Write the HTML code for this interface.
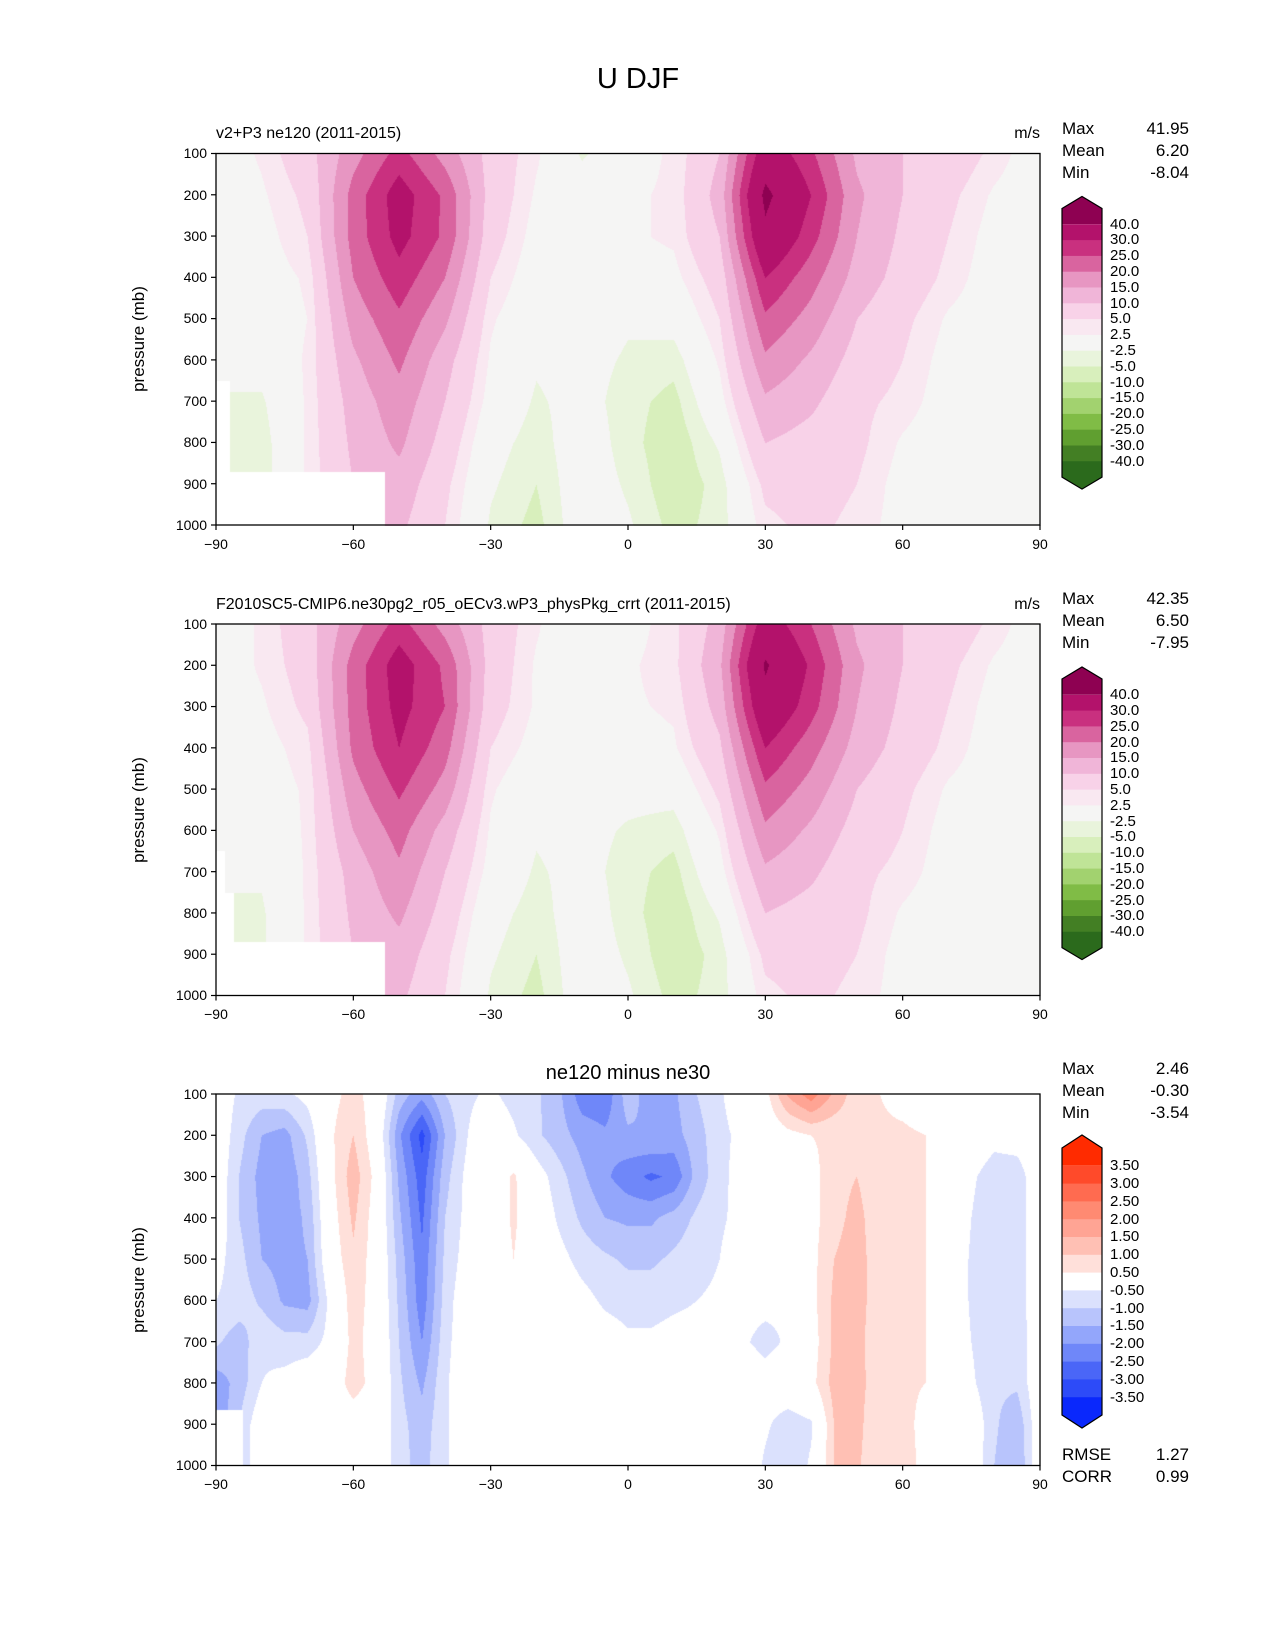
<!DOCTYPE html>
<html><head><meta charset="utf-8"><style>
body{margin:0;background:#fff;font-family:"Liberation Sans","DejaVu Sans",sans-serif;}
#fig{position:relative;width:1275px;height:1650px;overflow:hidden;background:#fff}
.t{position:absolute;white-space:nowrap;color:#000}
canvas{position:absolute}
</style></head><body>
<div id="fig">
<svg id="ov" width="1275" height="1650" style="position:absolute;left:0;top:0"></svg>
</div>
<script>
// ---- data ----
const lats10=[-90,-80,-70,-60,-50,-40,-30,-20,-10,0,10,20,30,40,50,60,70,80,90];
const lats5=[-90,-85,-80,-75,-70,-65,-60,-55,-50,-45,-40,-35,-30,-25,-20,-15,-10,-5,0,5,10,15,20,25,30,35,40,45,50,55,60,65,70,75,80,85,90];
const plevs=[100,200,300,400,500,600,700,800,900,1000];
const uLevels=[-40,-30,-25,-20,-15,-10,-5,-2.5,2.5,5,10,15,20,25,30,40];
const uLabels=["40.0","30.0","25.0","20.0","15.0","10.0","5.0","2.5","-2.5","-5.0","-10.0","-15.0","-20.0","-25.0","-30.0","-40.0"];
const uColors=["#2b6a1c","#437f24","#609f30","#80bc46","#a2d26f","#bfe497","#d8efbc","#e9f4dc","#f5f5f4","#f9e8f1","#f8d2e8","#f0b5d8","#e796c2","#d9649f","#c9307f","#b3126b","#8e0152"];
const dLevels=[-3.5,-3,-2.5,-2,-1.5,-1,-0.5,0.5,1,1.5,2,2.5,3,3.5];
const dLabels=["3.50","3.00","2.50","2.00","1.50","1.00","0.50","-0.50","-1.00","-1.50","-2.00","-2.50","-3.00","-3.50"];
const dColors=["#0a28fc","#2d4bf8","#4a66f7","#6f87f9","#93a6fb","#b8c4fc","#dbe1fd","#ffffff","#ffe0da","#ffc0b4","#ffa494","#ff8a72","#ff6b50","#ff4a2a","#ff2b00"];
// panel 1: rows = pressure, cols = lats10
const u1=[
[0,3,8,18,27,18,8,3,-3,1,3,10,35,26,14,10,8,4,0],
[-0.5,2,6,22,33,24,8,2,0,2,3,12,42,30,16,10,6,2,0],
[-1,1,5,22,32,24,7,1,1,2,3,10,38,27,15,9,5,1,0],
[-1,0.5,3,20,28,20,5,0,1,1,1.5,7,30,22,13,8,4,0.5,0],
[-1,0,2.5,17,24,16,3,-1,0,-2,-1,5,24,18,10,6,2,0.5,0],
[-1,-1,3,14,21,12,2,-2,-1,-3,-4,3,19,14,8,5,1,0,0],
[-3,-3,3,12,18,10,1,-3,-1,-4,-6,1,14,11,6,4,0.5,0,0],
[-3,-4,3,11,16,8,-1,-4,0,-4,-7,-2,10,8,6,2,0,0,0],
[-3,-4,3,10,13,6,-2,-5,0,-3,-7,-4,6,7,5,1,0,0,0],
[-3,-4,3,8,11,5,-3,-6,0,-2,-6,-4,4,6,4,1,0,0,0]];
const u2=[
[0,3,8,18,27,18,8,3,-2,1,4,12,34,25,14,10,8,4,0],
[0,3,7,22,33,24,8,2,0,2,4,14,41,29,16,10,6,2,0],
[0,2,6,22,32,25,7,2,1,2,3,12,37,27,15,9,5,1,0],
[-0.5,1,4,21,30,22,5,1,1,1,2,9,30,22,13,8,4,0.5,0],
[-1,0.5,3,18,26,18,3,-1,0,-1,-1,6,24,18,10,6,2,0.5,0],
[-1,-0.5,3,15,22,13,2,-2,-1,-3,-4,3,19,14,8,5,1,0,0],
[-2,-2,3,12,19,10,1,-3,-1,-4,-6,1,14,11,6,4,0.5,0,0],
[-3,-3,3,11,16,8,-1,-4,0,-4,-7,-2,10,8,6,2,0,0,0],
[-3,-3,3,10,13,6,-2,-5,0,-3,-7,-4,6,7,5,1,0,0,0],
[-3,-3,3,8,11,5,-3,-6,0,-2,-6,-4,4,6,4,1,0,0,0]];
// panel 3: rows = pressure, cols = lats5
const d3=[
[0,-0.6,-0.7,-0.6,-0.3,0.3,0.7,0.2,-1.2,-1.8,-1,-0.6,-0.4,-0.7,-0.9,-1.4,-2.3,-2.4,-1.2,-1.8,-1.6,-1.0,-0.6,0,0.3,1.6,2.3,1.4,0.7,0.5,0.3,0.1,0,0,0,0,0],
[0,-0.8,-1.5,-1.7,-0.9,0.4,1.0,0.1,-1.9,-3.2,-1.5,-0.5,0,-0.4,-0.9,-1.3,-1.7,-1.9,-1.6,-1.5,-1.7,-1.2,-0.7,-0.3,0,0.3,0.5,0.6,0.7,0.6,0.6,0.5,0.3,0,-0.3,-0.2,0],
[0,-1,-1.7,-1.9,-1.2,0.3,1.3,0.3,-1.6,-2.8,-1.2,-0.3,0,0.6,-0.2,-0.8,-1.4,-1.9,-2.3,-2.6,-2.4,-1.3,-0.7,-0.2,0,-0.5,0.3,0.8,1.0,0.6,0.6,0.5,0.3,-0.4,-0.8,-0.8,0],
[0,-1,-1.6,-1.8,-1.4,0.2,1.1,0.2,-1.4,-2.6,-1.0,-0.3,0,0.6,0,-0.6,-1.1,-1.5,-1.6,-1.6,-1.3,-0.9,-0.6,-0.3,0,-0.3,0.3,0.8,1.2,0.6,0.6,0.5,0.3,-0.5,-0.9,-0.8,0],
[-0.3,-0.8,-1.5,-1.7,-1.5,0.1,0.9,0.2,-1.2,-2.4,-0.9,-0.2,0,0.5,0,-0.3,-0.7,-0.9,-1.1,-1.1,-0.9,-0.7,-0.5,-0.1,0,-0.3,0.3,1.0,1.3,0.6,0.6,0.5,0.2,-0.6,-0.9,-0.8,0],
[-0.5,-0.7,-1.1,-1.6,-1.7,-0.3,0.8,0.2,-1.1,-2.3,-0.8,0,0,0.3,0,0,-0.3,-0.6,-0.7,-0.7,-0.6,-0.5,-0.4,-0.3,-0.3,-0.4,0.3,1.1,1.3,0.6,0.6,0.5,0.2,-0.6,-0.9,-0.8,0],
[-0.9,-1.3,-0.6,-0.8,-0.8,-0.3,0.7,0.2,-1.0,-2.0,-0.7,0,0,0,0,0,0,-0.2,-0.4,-0.4,-0.3,-0.3,-0.3,-0.4,-0.7,-0.4,0.2,1.1,1.2,0.6,0.6,0.5,0.2,-0.5,-0.9,-0.9,0],
[-1.8,-1.3,-0.5,-0.3,0,0,0.8,0.2,-0.9,-1.6,-0.6,0,0,0,0,0,0,0,0,0,0,0,0,0,-0.2,0,0.3,1.2,1.2,0.7,0.6,0.5,0.2,-0.4,-0.9,-0.9,0],
[-2,-1,0,0,0,0,0,0,-0.8,-1.3,-0.6,0,0,0,0,0,0,0,0,0,0,0,0,0,-0.4,-0.8,-0.6,1.0,1.2,0.5,0.7,0.3,0,0,-0.9,-1.4,0],
[-2,-1,0,0,0,0,0,0,-0.8,-1.2,-0.6,0,0,0,0,0,0,0,0,0,0,0,0,0,-0.6,-1.0,-0.4,1.0,1.1,0.5,0.8,0.3,0,0,-1.0,-1.5,0]];
const stats1=["41.95","6.20","-8.04"], stats2=["42.35","6.50","-7.95"], stats3=["2.46","-0.30","-3.54"];
const xTicks=[-90,-60,-30,0,30,60,90];
const yTicks=[100,200,300,400,500,600,700,800,900,1000];

// ---- layout ----
const AX0=216, AX1=1040, AH=371.5;
const panels=[
 {top:153.5,grid:u1,lats:lats10,levels:uLevels,colors:uColors,labels:uLabels,stats:stats1,title:"v2+P3 ne120 (2011-2015)",name:"panel-test",
  masks:[[-90,-53,870],[-90,-87,650]]},
 {top:624,grid:u2,lats:lats10,levels:uLevels,colors:uColors,labels:uLabels,stats:stats2,title:"F2010SC5-CMIP6.ne30pg2_r05_oECv3.wP3_physPkg_crrt (2011-2015)",name:"panel-reference",
  masks:[[-90,-53,870],[-90,-88,650],[-90,-86,750]]},
 {top:1094,grid:d3,lats:lats5,levels:dLevels,colors:dColors,labels:dLabels,stats:stats3,title:"ne120 minus ne30",name:"panel-difference",
  masks:[[-90,-84,865]]}
];
const fig=document.getElementById('fig');
const ov=document.getElementById('ov');
const NS="http://www.w3.org/2000/svg";
function xOf(lat){return AX0+(lat+90)/180*(AX1-AX0);}
function yOf(p,top){return top+(p-100)/900*AH;}
function sv(tag,attrs){const e=document.createElementNS(NS,tag);for(const k in attrs)e.setAttribute(k,attrs[k]);ov.appendChild(e);return e;}
function txt(s,x,y,size,align,name){const d=document.createElement('div');d.className='t';d.textContent=s;d.style.fontSize=size+'px';d.style.top=(y-size*0.58)+'px';
 if(align==='right'){d.style.right=(1275-x)+'px';}else if(align==='center'){d.style.left=x+'px';d.style.transform='translateX(-50%)';}else d.style.left=x+'px';
 
 
 fig.appendChild(d);return d;}
function interp(grid,lats,lat,p){
 let i=0;while(i<lats.length-2&&lat>lats[i+1])i++;
 let j=0;while(j<plevs.length-2&&p>plevs[j+1])j++;
 const fx=Math.min(1,Math.max(0,(lat-lats[i])/(lats[i+1]-lats[i])));
 const fy=Math.min(1,Math.max(0,(p-plevs[j])/(plevs[j+1]-plevs[j])));
 const a=grid[j][i],b=grid[j][i+1],c=grid[j+1][i],d=grid[j+1][i+1];
 return a*(1-fx)*(1-fy)+b*fx*(1-fy)+c*(1-fx)*fy+d*fx*fy;}
function levelIdx(v,levels){let k=0;while(k<levels.length&&v>levels[k])k++;return k;}
function hex(h){return [parseInt(h.substr(1,2),16),parseInt(h.substr(3,2),16),parseInt(h.substr(5,2),16)];}

txt("U DJF",638,80,29,'center','figure-title');

panels.forEach((P,pi)=>{
 const W=Math.round(AX1-AX0),H=Math.round(AH);
 const cv=document.createElement('canvas');cv.width=W;cv.height=H;cv.style.left=AX0+'px';cv.style.top=P.top+'px';
 
 
 fig.insertBefore(cv,ov);
 const ctx=cv.getContext('2d');const img=ctx.createImageData(W,H);
 const rgb=P.colors.map(hex);
 for(let py=0;py<H;py++){const p=100+(py+0.5)/H*900;
  for(let px=0;px<W;px++){const lat=-90+(px+0.5)/W*180;
   let col;let masked=false;
   for(const m of P.masks){if(lat>=m[0]&&lat<m[1]&&p>m[2])masked=true;}
   col=masked?[255,255,255]:rgb[levelIdx(interp(P.grid,P.lats,lat,p),P.levels)];
   const o=(py*W+px)*4;img.data[o]=col[0];img.data[o+1]=col[1];img.data[o+2]=col[2];img.data[o+3]=255;}}
 ctx.putImageData(img,0,0);
 // frame
 const fr=sv('rect',{x:AX0,y:P.top,width:AX1-AX0,height:AH,fill:'none',stroke:'#000','stroke-width':1.3});
 
 
 xTicks.forEach(t=>{const x=xOf(t);sv('line',{x1:x,x2:x,y1:P.top+AH,y2:P.top+AH+5,stroke:'#000','stroke-width':1.2});
  txt(t<0?'\u2212'+(-t):String(t),x,P.top+AH+19,14,'center','x-tick-label');});
 yTicks.forEach(t=>{const y=yOf(t,P.top);sv('line',{x1:AX0-5,x2:AX0,y1:y,y2:y,stroke:'#000','stroke-width':1.2});
  txt(String(t),AX0-9,y,14,'right','y-tick-label');});
 const yl=txt("pressure (mb)",139,P.top+AH/2,17,'center','y-axis-title');yl.style.transform='translateX(-50%) rotate(-90deg)';
 if(pi<2){txt(P.title,216,P.top-19,16,'left','panel-title');txt("m/s",1040,P.top-19,16,'right','units-label');}
 else txt(P.title,628,P.top-20,20,'center','panel-title');
 ["Max","Mean","Min"].forEach((s,k)=>{txt(s,1062,P.top-25+k*22,17,'left','stat-name');txt(P.stats[k],1189,P.top-25+k*22,17,'right','stat-value');});
 // colorbar
 const cx0=1062,cx1=1102;let y0,bh,tipT;
 if(pi<2){y0=P.top+55;bh=15.8;tipT=P.top+43;}else{y0=P.top+54;bh=17.8;tipT=P.top+41;}
 const nb=P.colors.length; // includes extensions
 const cm=(cx0+cx1)/2;
 for(let k=0;k<nb;k++){const c=P.colors[nb-1-k];
  let r;
  if(k===0){r=sv('polygon',{points:`${cx0},${y0+bh} ${cx0},${y0} ${cm},${tipT} ${cx1},${y0} ${cx1},${y0+bh}`,fill:c});}
  else if(k===nb-1){const yb=y0+k*bh;r=sv('polygon',{points:`${cx0},${yb} ${cx0},${yb+bh} ${cm},${yb+bh+(y0-tipT)} ${cx1},${yb+bh} ${cx1},${yb}`,fill:c});}
  else r=sv('rect',{x:cx0,y:y0+k*bh,width:cx1-cx0,height:bh+0.5,fill:c});
  
  }
 const yb=y0+(nb-1)*bh;
 const out=sv('polygon',{points:`${cx0},${y0} ${cm},${tipT} ${cx1},${y0} ${cx1},${yb+bh} ${cm},${yb+bh+(y0-tipT)} ${cx0},${yb+bh}`,fill:'none',stroke:'#000','stroke-width':1.2});
 
 
 P.labels.forEach((l,k)=>{txt(l.replace('-','-'),1110,y0+(k+1)*bh,15,'left','colorbar-label');});
 if(pi===2){txt("RMSE",1062,1455,17,'left','rmse-label');txt("1.27",1189,1455,17,'right','rmse-value');
  txt("CORR",1062,1477,17,'left','corr-label');txt("0.99",1189,1477,17,'right','corr-value');}
});
</script>
</body></html>
